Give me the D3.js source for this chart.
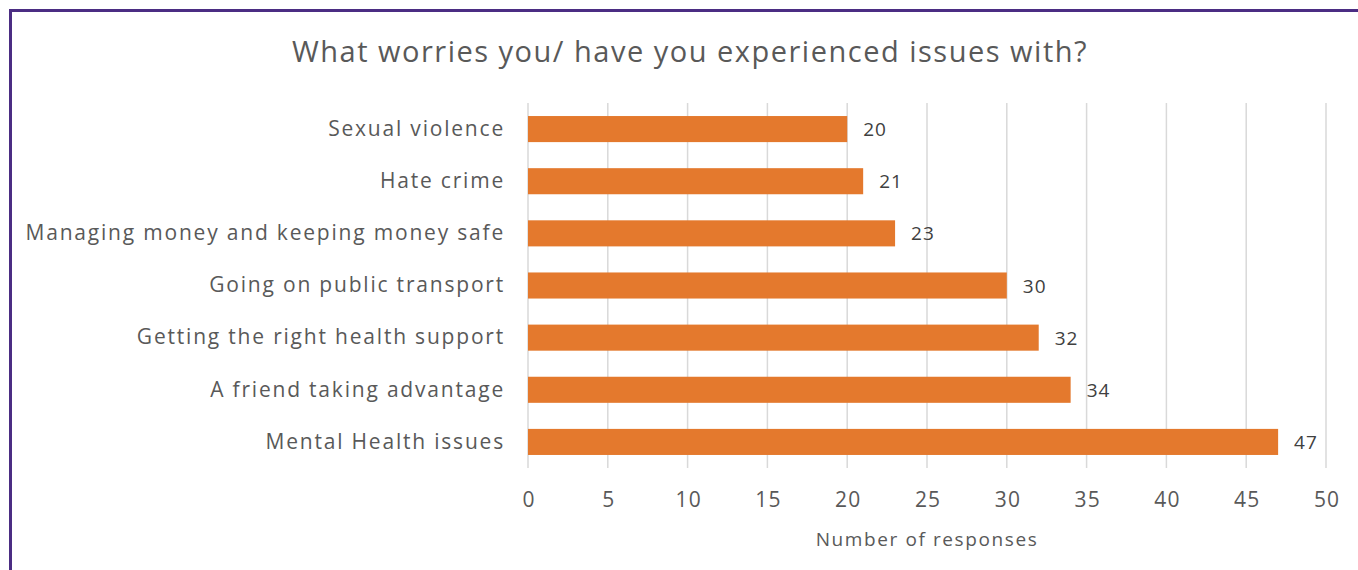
<!DOCTYPE html>
<html><head><meta charset="utf-8">
<script src="https://cdn.jsdelivr.net/npm/d3@7"></script>
<style>html,body{margin:0;padding:0;background:#fff;}svg{display:block;}</style>
</head><body>
<svg id="chart" width="1358" height="570"></svg>
<script>
const categories = ["Sexual violence","Hate crime","Managing money and keeping money safe","Going on public transport","Getting the right health support","A friend taking advantage","Mental Health issues"];
const values = [20,21,23,30,32,34,47];
const xTicks = [0,5,10,15,20,25,30,35,40,45,50];
const titleText = "What worries you/ have you experienced issues with?";
const xAxisTitle = "Number of responses";

const font = "'Open Sans', sans-serif";
const svg = d3.select("#chart");
const W = 1358, H = 570;
svg.append("rect").attr("x",0).attr("y",0).attr("width",W).attr("height",H).attr("fill","#fff");
// border
svg.append("path").attr("d",`M10.5,${H} L10.5,10.5 L${W},10.5`).attr("fill","none").attr("stroke","#4b2d83").attr("stroke-width",3);

const x = d3.scaleLinear().domain([0,50]).range([528,1326]);
const y = d3.scaleBand().domain(categories).range([103,468]).paddingInner(0.5).paddingOuter(0.25);

// gridlines
svg.append("g").selectAll("line").data(xTicks).join("line")
  .attr("x1",d=>x(d)).attr("x2",d=>x(d)).attr("y1",103).attr("y2",468)
  .attr("stroke","#d9d9d9").attr("stroke-width",1.5);

// bars
svg.append("g").selectAll("rect").data(values).join("rect")
  .attr("x",x(0)).attr("y",(d,i)=>y(categories[i]))
  .attr("width",d=>x(d)-x(0)).attr("height",y.bandwidth())
  .attr("fill","#e4792d");

// value labels
svg.append("g").selectAll("text").data(values).join("text")
  .attr("x",d=>x(d)+16).attr("y",(d,i)=>y(categories[i])+y.bandwidth()/2)
  .attr("dominant-baseline","central").attr("font-family",font).attr("font-size",19)
  .attr("letter-spacing",1).attr("fill","#404040").text(d=>d);

// category labels
const yAxis = d3.axisLeft(y).tickSize(0).tickPadding(23);
const gy = svg.append("g").attr("transform",`translate(${x(0)},0)`).call(yAxis);
gy.select(".domain").remove();
gy.selectAll("text").attr("font-family",font).attr("font-size",21).attr("fill","#595959").attr("letter-spacing",1.8);

// x axis
const xAxis = d3.axisBottom(x).tickValues(xTicks).tickSize(0).tickPadding(24);
const gx = svg.append("g").attr("transform",`translate(0,468)`).call(xAxis);
gx.select(".domain").remove();
gx.selectAll("text").attr("font-family",font).attr("font-size",21).attr("fill","#595959").attr("letter-spacing",1.2).attr("dx",0.6);

svg.append("text").attr("x",(x(0)+x(50))/2).attr("y",539).attr("text-anchor","middle")
  .attr("dominant-baseline","central").attr("font-family",font).attr("font-size",19)
  .attr("letter-spacing",1.6).attr("fill","#595959").text(xAxisTitle);

svg.append("text").attr("x",690).attr("y",50).attr("text-anchor","middle")
  .attr("dominant-baseline","central").attr("font-family",font).attr("font-size",29)
  .attr("letter-spacing",1.5).attr("fill","#595959").text(titleText);
</script>
</body></html>
